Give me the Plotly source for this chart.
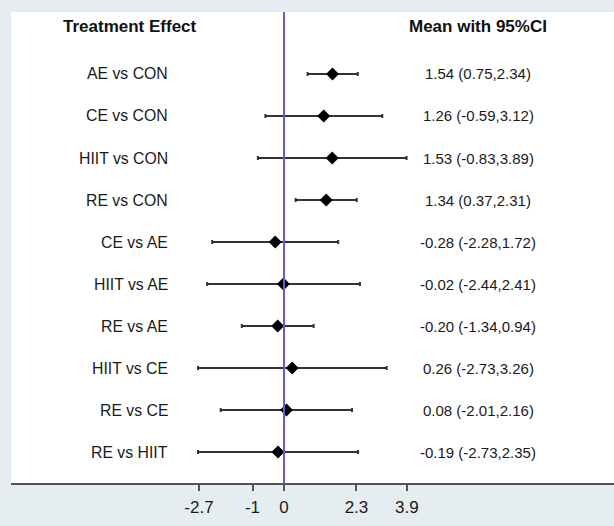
import plotly.graph_objects as go

comparisons = ["AE vs CON", "CE vs CON", "HIIT vs CON", "RE vs CON", "CE vs AE",
               "HIIT vs AE", "RE vs AE", "HIIT vs CE", "RE vs CE", "RE vs HIIT"]
means = [1.54, 1.26, 1.53, 1.34, -0.28, -0.02, -0.20, 0.26, 0.08, -0.19]
lower = [0.75, -0.59, -0.83, 0.37, -2.28, -2.44, -1.34, -2.73, -2.01, -2.73]
upper = [2.34, 3.12, 3.89, 2.31, 1.72, 2.41, 0.94, 3.26, 2.16, 2.35]
tick_vals = [-2.7, -1, 0, 2.3, 3.9]
tick_text = ["-2.7", "-1", "0", "2.3", "3.9"]

rows = list(range(len(comparisons)))
err_plus = [u - m for u, m in zip(upper, means)]
err_minus = [m - l for m, l in zip(means, lower)]
ci_text = [f"{m:.2f} ({l:.2f},{u:.2f})" for m, l, u in zip(means, lower, upper)]

FONT = "Liberation Sans, Arial, Helvetica, sans-serif"
BG = "#e6edf0"

fig = go.Figure()
fig.add_trace(go.Scatter(
    x=means, y=rows, mode="markers",
    marker=dict(symbol="diamond", size=10, color="black"),
    error_x=dict(type="data", symmetric=False, array=err_plus, arrayminus=err_minus,
                 color="#3b302c", thickness=2, width=2),
    showlegend=False, hoverinfo="skip",
))

for r, lab, ct in zip(rows, comparisons, ci_text):
    fig.add_annotation(x=0.2645, xref="paper", y=r, yref="y", text=lab, showarrow=False,
                       xanchor="right", yanchor="middle",
                       font=dict(family=FONT, size=15.8, color="#1a1a1a"))
    fig.add_annotation(x=0.775, xref="paper", y=r, yref="y", text=ct, showarrow=False,
                       xanchor="center", yanchor="middle",
                       font=dict(family=FONT, size=15, color="#1a1a1a"))

fig.add_annotation(x=0.197, xref="paper", y=-1.12, yref="y", text="<b>Treatment Effect</b>",
                   showarrow=False, xanchor="center", yanchor="middle",
                   font=dict(family=FONT, size=17, color="#111111"))
fig.add_annotation(x=0.775, xref="paper", y=-1.12, yref="y", text="<b>Mean with 95%CI</b>",
                   showarrow=False, xanchor="center", yanchor="middle",
                   font=dict(family=FONT, size=17, color="#111111"))

fig.add_shape(type="line", x0=0, x1=0, xref="x", y0=0, y1=1, yref="paper",
              line=dict(color="#5f5fd2", width=2), layer="above")

fig.update_layout(
    width=614, height=526,
    margin=dict(l=11, r=0, t=12, b=43),
    paper_bgcolor=BG, plot_bgcolor="white",
    xaxis=dict(range=[-8.667, 10.476], tickvals=tick_vals, ticktext=tick_text,
               showgrid=False, zeroline=False, showline=True, linecolor="#555555",
               linewidth=2, ticks="outside", ticklen=6, tickwidth=2, tickcolor="#555555",
               ticklabelstandoff=2,
               tickfont=dict(family=FONT, size=17, color="#1a1a1a"), fixedrange=True),
    yaxis=dict(range=[9.738, -1.476], showgrid=False, zeroline=False, showline=False,
               showticklabels=False, ticks="", fixedrange=True),
)

fig.write_html("out.html", config={"displayModeBar": False},
               post_script="document.body.style.margin='0';document.body.style.background='%s';" % BG)
